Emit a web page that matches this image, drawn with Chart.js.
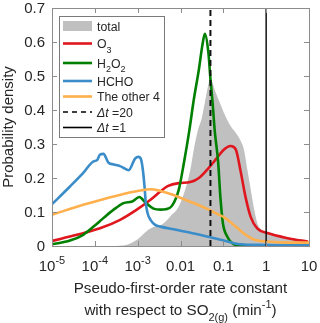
<!DOCTYPE html>
<html>
<head>
<meta charset="utf-8">
<script src="https://cdn.jsdelivr.net/npm/chart.js@4.4.1/dist/chart.umd.min.js"></script>
<style>
  html, body { margin: 0; padding: 0; background: #fff; }
</style>
</head>
<body>
<canvas id="chart" width="320" height="323"></canvas>
<script>
// axis ticks ("^" marks a superscript)
const xTickExp = [-5, -4, -3, -2, -1, 0, 1];
const xTickLabels = ['10^-5', '10^-4', '10^-3', '0.01', '0.1', '1', '10'];
const yTicks = [0, 0.1, 0.2, 0.3, 0.4, 0.5, 0.6, 0.7];
const yTickLabels = ['0', '0.1', '0.2', '0.3', '0.4', '0.5', '0.6', '0.7'];

// series, x as log10 of rate constant (min^-1)
const totalLogK = [-3.6, -3.25, -3.0, -2.78, -2.6, -2.45, -2.35, -2.24, -2.04, -1.89, -1.77, -1.69, -1.59, -1.51, -1.43, -1.30, -1.18, -0.99, -0.83, -0.71, -0.6, -0.52, -0.44, -0.36, -0.28, -0.2, -0.1, 0.03, 0.5, 1.0];
const totalDensity = [0, 0.004, 0.02, 0.045, 0.057, 0.062, 0.072, 0.087, 0.116, 0.166, 0.225, 0.284, 0.343, 0.373, 0.422, 0.49, 0.452, 0.393, 0.353, 0.333, 0.31, 0.284, 0.225, 0.166, 0.107, 0.065, 0.048, 0.041, 0.026, 0.016];

const o3LogK = [-5, -4.42, -3.88, -3.41, -3.02, -2.70, -2.47, -2.3, -2.04, -1.77, -1.57, -1.34, -1.18, -0.99, -0.83, -0.71, -0.6, -0.48, -0.36, -0.21, 0.03, 0.5, 0.97];
const o3Density = [0.015, 0.033, 0.052, 0.077, 0.107, 0.136, 0.16, 0.176, 0.185, 0.188, 0.2, 0.23, 0.254, 0.283, 0.294, 0.284, 0.222, 0.143, 0.085, 0.052, 0.038, 0.023, 0.013];

const h2o2LogK = [-5, -4.58, -4.27, -4.03, -3.80, -3.56, -3.33, -3.13, -2.96, -2.82, -2.63, -2.47, -2.35, -2.2, -2.04, -1.92, -1.8, -1.69, -1.57, -1.49, -1.43, -1.35, -1.30, -1.25, -1.2, -1.12, -1.07, -1.01, -0.91, -0.79, -0.6, 1.0];
const h2o2Density = [0.005, 0.016, 0.033, 0.057, 0.082, 0.107, 0.126, 0.131, 0.144, 0.128, 0.110, 0.107, 0.108, 0.118, 0.166, 0.245, 0.335, 0.43, 0.52, 0.59, 0.624, 0.57, 0.49, 0.42, 0.338, 0.245, 0.146, 0.067, 0.028, 0.008, 0.001, 0];

const hchoLogK = [-5, -4.58, -4.27, -4.03, -3.95, -3.88, -3.80, -3.68, -3.56, -3.41, -3.21, -3.06, -2.98, -2.92, -2.88, -2.84, -2.81, -2.77, -2.70, -2.59, -2.47, -2.16, -1.77, -1.38, -0.99, -0.67, 0, 1];
const hchoDensity = [0.123, 0.175, 0.215, 0.249, 0.252, 0.269, 0.271, 0.245, 0.240, 0.235, 0.223, 0.257, 0.262, 0.254, 0.225, 0.175, 0.126, 0.097, 0.077, 0.062, 0.057, 0.049, 0.039, 0.028, 0.016, 0.006, 0.003, 0.002];

const otherLogK = [-5, -4.27, -3.49, -2.94, -2.70, -2.47, -2.16, -1.89, -1.57, -1.34, -1.07, -0.99, -0.71, -0.48, -0.3, 0.03, 0.5, 1];
const otherDensity = [0.092, 0.121, 0.148, 0.163, 0.167, 0.162, 0.15, 0.136, 0.12, 0.107, 0.09, 0.085, 0.057, 0.033, 0.02, 0.013, 0.01, 0.01];

const dt20K = 0.05;
const dt1K = 1;

const FONT = '"Liberation Sans", Arial, sans-serif';
const TXT = '#262626';
const AXIS = '#8c8c8c';

const toPts = (lk, d) => lk.map((e, i) => ({ x: Math.pow(10, e), y: d[i] }));
const vline = k => [{ x: k, y: 0 }, { x: k, y: 0.7 }];

const legendItems = [
  { kind: 'patch', color: '#c0c0c0', parts: [['total', '']], y: 26 },
  { kind: 'line', color: '#e0161e', parts: [['O', ''], ['3', 'sub']], y: 43.5 },
  { kind: 'line', color: '#008000', parts: [['H', ''], ['2', 'sub'], ['O', ''], ['2', 'sub']], y: 63 },
  { kind: 'line', color: '#3a8dc9', parts: [['HCHO', '']], y: 81 },
  { kind: 'line', color: '#ffb04c', parts: [['The other 4', '']], y: 96.5 },
  { kind: 'dash', color: '#000', parts: [['Δt', 'it'], [' =20', '']], y: 112 },
  { kind: 'solid', color: '#000', parts: [['Δt', 'it'], [' =1', '']], y: 127.5 }
];

// size: base font px; parts [text, style]
function richText(ctx, parts, x, y, align, size) {
  const small = Math.round(size * 0.72);
  const fontOf = s => (s === 'sub' || s === 'sup') ? small + 'px ' + FONT
    : (s === 'it' ? 'italic ' + size + 'px ' + FONT : size + 'px ' + FONT);
  let w = 0;
  parts.forEach(p => { ctx.font = fontOf(p[1]); w += ctx.measureText(p[0]).width; });
  let cx = align === 'center' ? x - w / 2 : (align === 'right' ? x - w : x);
  ctx.textAlign = 'left';
  ctx.textBaseline = 'alphabetic';
  parts.forEach(p => {
    ctx.font = fontOf(p[1]);
    const dy = p[1] === 'sub' ? size * 0.4 : (p[1] === 'sup' ? -size * 0.47 : 0);
    ctx.fillText(p[0], cx, y + dy);
    cx += ctx.measureText(p[0]).width;
  });
}

const framePlugin = {
  id: 'frame',
  afterDatasetsDraw(chart) {
    const { ctx, chartArea: a, scales } = chart;
    ctx.save();
    // box and inward ticks
    ctx.strokeStyle = AXIS;
    ctx.lineWidth = 1;
    ctx.strokeRect(a.left + 0.5, a.top + 0.5, a.right - a.left, a.bottom - a.top);
    ctx.beginPath();
    scales.x.ticks.forEach(t => {
      const px = Math.round(scales.x.getPixelForValue(t.value)) + 0.5;
      ctx.moveTo(px, a.bottom); ctx.lineTo(px, a.bottom - 5);
      ctx.moveTo(px, a.top); ctx.lineTo(px, a.top + 5);
    });
    scales.y.ticks.forEach(t => {
      const py = Math.round(scales.y.getPixelForValue(t.value)) + 0.5;
      ctx.moveTo(a.left, py); ctx.lineTo(a.left + 5, py);
      ctx.moveTo(a.right, py); ctx.lineTo(a.right - 5, py);
    });
    ctx.stroke();

    // tick labels
    ctx.fillStyle = TXT;
    scales.x.ticks.forEach((t, i) => {
      const px = scales.x.getPixelForValue(t.value);
      const [base, sup] = xTickLabels[i].split('^');
      const parts = sup ? [[base, ''], [sup, 'sup']] : [[base, '']];
      richText(ctx, parts, px, 271, 'center', 15);
    });
    scales.y.ticks.forEach((t, i) => {
      const py = scales.y.getPixelForValue(t.value);
      richText(ctx, [[yTickLabels[i], '']], 45, py + 5.4, 'right', 15);
    });

    // legend
    const lx = 59, ly = 16, lw = 105, lh = 121;
    ctx.fillStyle = '#fff';
    ctx.fillRect(lx, ly, lw, lh);
    ctx.strokeStyle = '#7a7a7a';
    ctx.lineWidth = 1;
    ctx.strokeRect(lx + 0.5, ly + 0.5, lw, lh);
    legendItems.forEach(it => {
      if (it.kind === 'patch') {
        ctx.fillStyle = it.color;
        ctx.fillRect(63, it.y - 5, 29, 10);
      } else {
        ctx.beginPath();
        ctx.strokeStyle = it.color;
        ctx.lineWidth = it.kind === 'line' ? 2.6 : 1.6;
        ctx.setLineDash(it.kind === 'dash' ? [5, 4] : []);
        ctx.moveTo(63, it.y); ctx.lineTo(92, it.y);
        ctx.stroke();
        ctx.setLineDash([]);
      }
      ctx.fillStyle = TXT;
      richText(ctx, it.parts, 97, it.y + 4.5, 'left', 12.3);
    });

    // x axis title
    const cx = (a.left + a.right) / 2;
    ctx.fillStyle = TXT;
    richText(ctx, [['Pseudo-first-order rate constant', '']], cx, 293, 'center', 15.2);
    richText(ctx, [['with respect to SO', ''], ['2(g)', 'sub'], [' (min', ''], ['-1', 'sup'], [')', '']], cx, 315, 'center', 15.2);
    ctx.restore();
  }
};

const lineDs = (label, lk, d, color, order) => ({
  label, data: toPts(lk, d), borderColor: color, borderWidth: 2.6,
  pointRadius: 0, fill: false, cubicInterpolationMode: 'monotone', order
});

new Chart(document.getElementById('chart'), {
  type: 'line',
  data: {
    datasets: [
      { label: 'total', data: toPts(totalLogK, totalDensity), borderWidth: 0, borderColor: 'rgba(0,0,0,0)',
        backgroundColor: '#c0c0c0', fill: 'origin', pointRadius: 0, cubicInterpolationMode: 'monotone', order: 7 },
      lineDs('O3', o3LogK, o3Density, '#e0161e', 6),
      lineDs('H2O2', h2o2LogK, h2o2Density, '#008000', 5),
      lineDs('HCHO', hchoLogK, hchoDensity, '#3a8dc9', 4),
      lineDs('The other 4', otherLogK, otherDensity, '#ffb04c', 3),
      { label: 'dt=20', data: vline(dt20K), borderColor: '#111', borderWidth: 2, borderDash: [6, 4],
        pointRadius: 0, fill: false, order: 2 },
      { label: 'dt=1', data: vline(dt1K), borderColor: '#111', borderWidth: 1.5,
        pointRadius: 0, fill: false, order: 1 }
    ]
  },
  options: {
    responsive: false,
    animation: false,
    layout: { padding: { top: 8, right: 11, left: 0, bottom: 0 } },
    plugins: { legend: { display: false }, tooltip: { enabled: false } },
    scales: {
      x: {
        type: 'logarithmic', min: 1e-5, max: 10,
        afterBuildTicks: s => { s.ticks = xTickExp.map(e => ({ value: Math.pow(10, e) })); },
        afterFit: s => { s.height = 77; },
        grid: { display: false, drawTicks: false },
        border: { display: false },
        ticks: { display: false }
      },
      y: {
        min: 0, max: 0.7,
        afterBuildTicks: s => { s.ticks = yTicks.map(v => ({ value: v })); },
        afterFit: s => { s.width = 52; },
        grid: { display: false, drawTicks: false },
        border: { display: false },
        ticks: { display: false },
        title: {
          display: true, text: 'Probability density', color: TXT,
          font: { size: 15, family: FONT }, padding: { top: 0, bottom: 0 }
        }
      }
    }
  },
  plugins: [framePlugin]
});
</script>
</body>
</html>
